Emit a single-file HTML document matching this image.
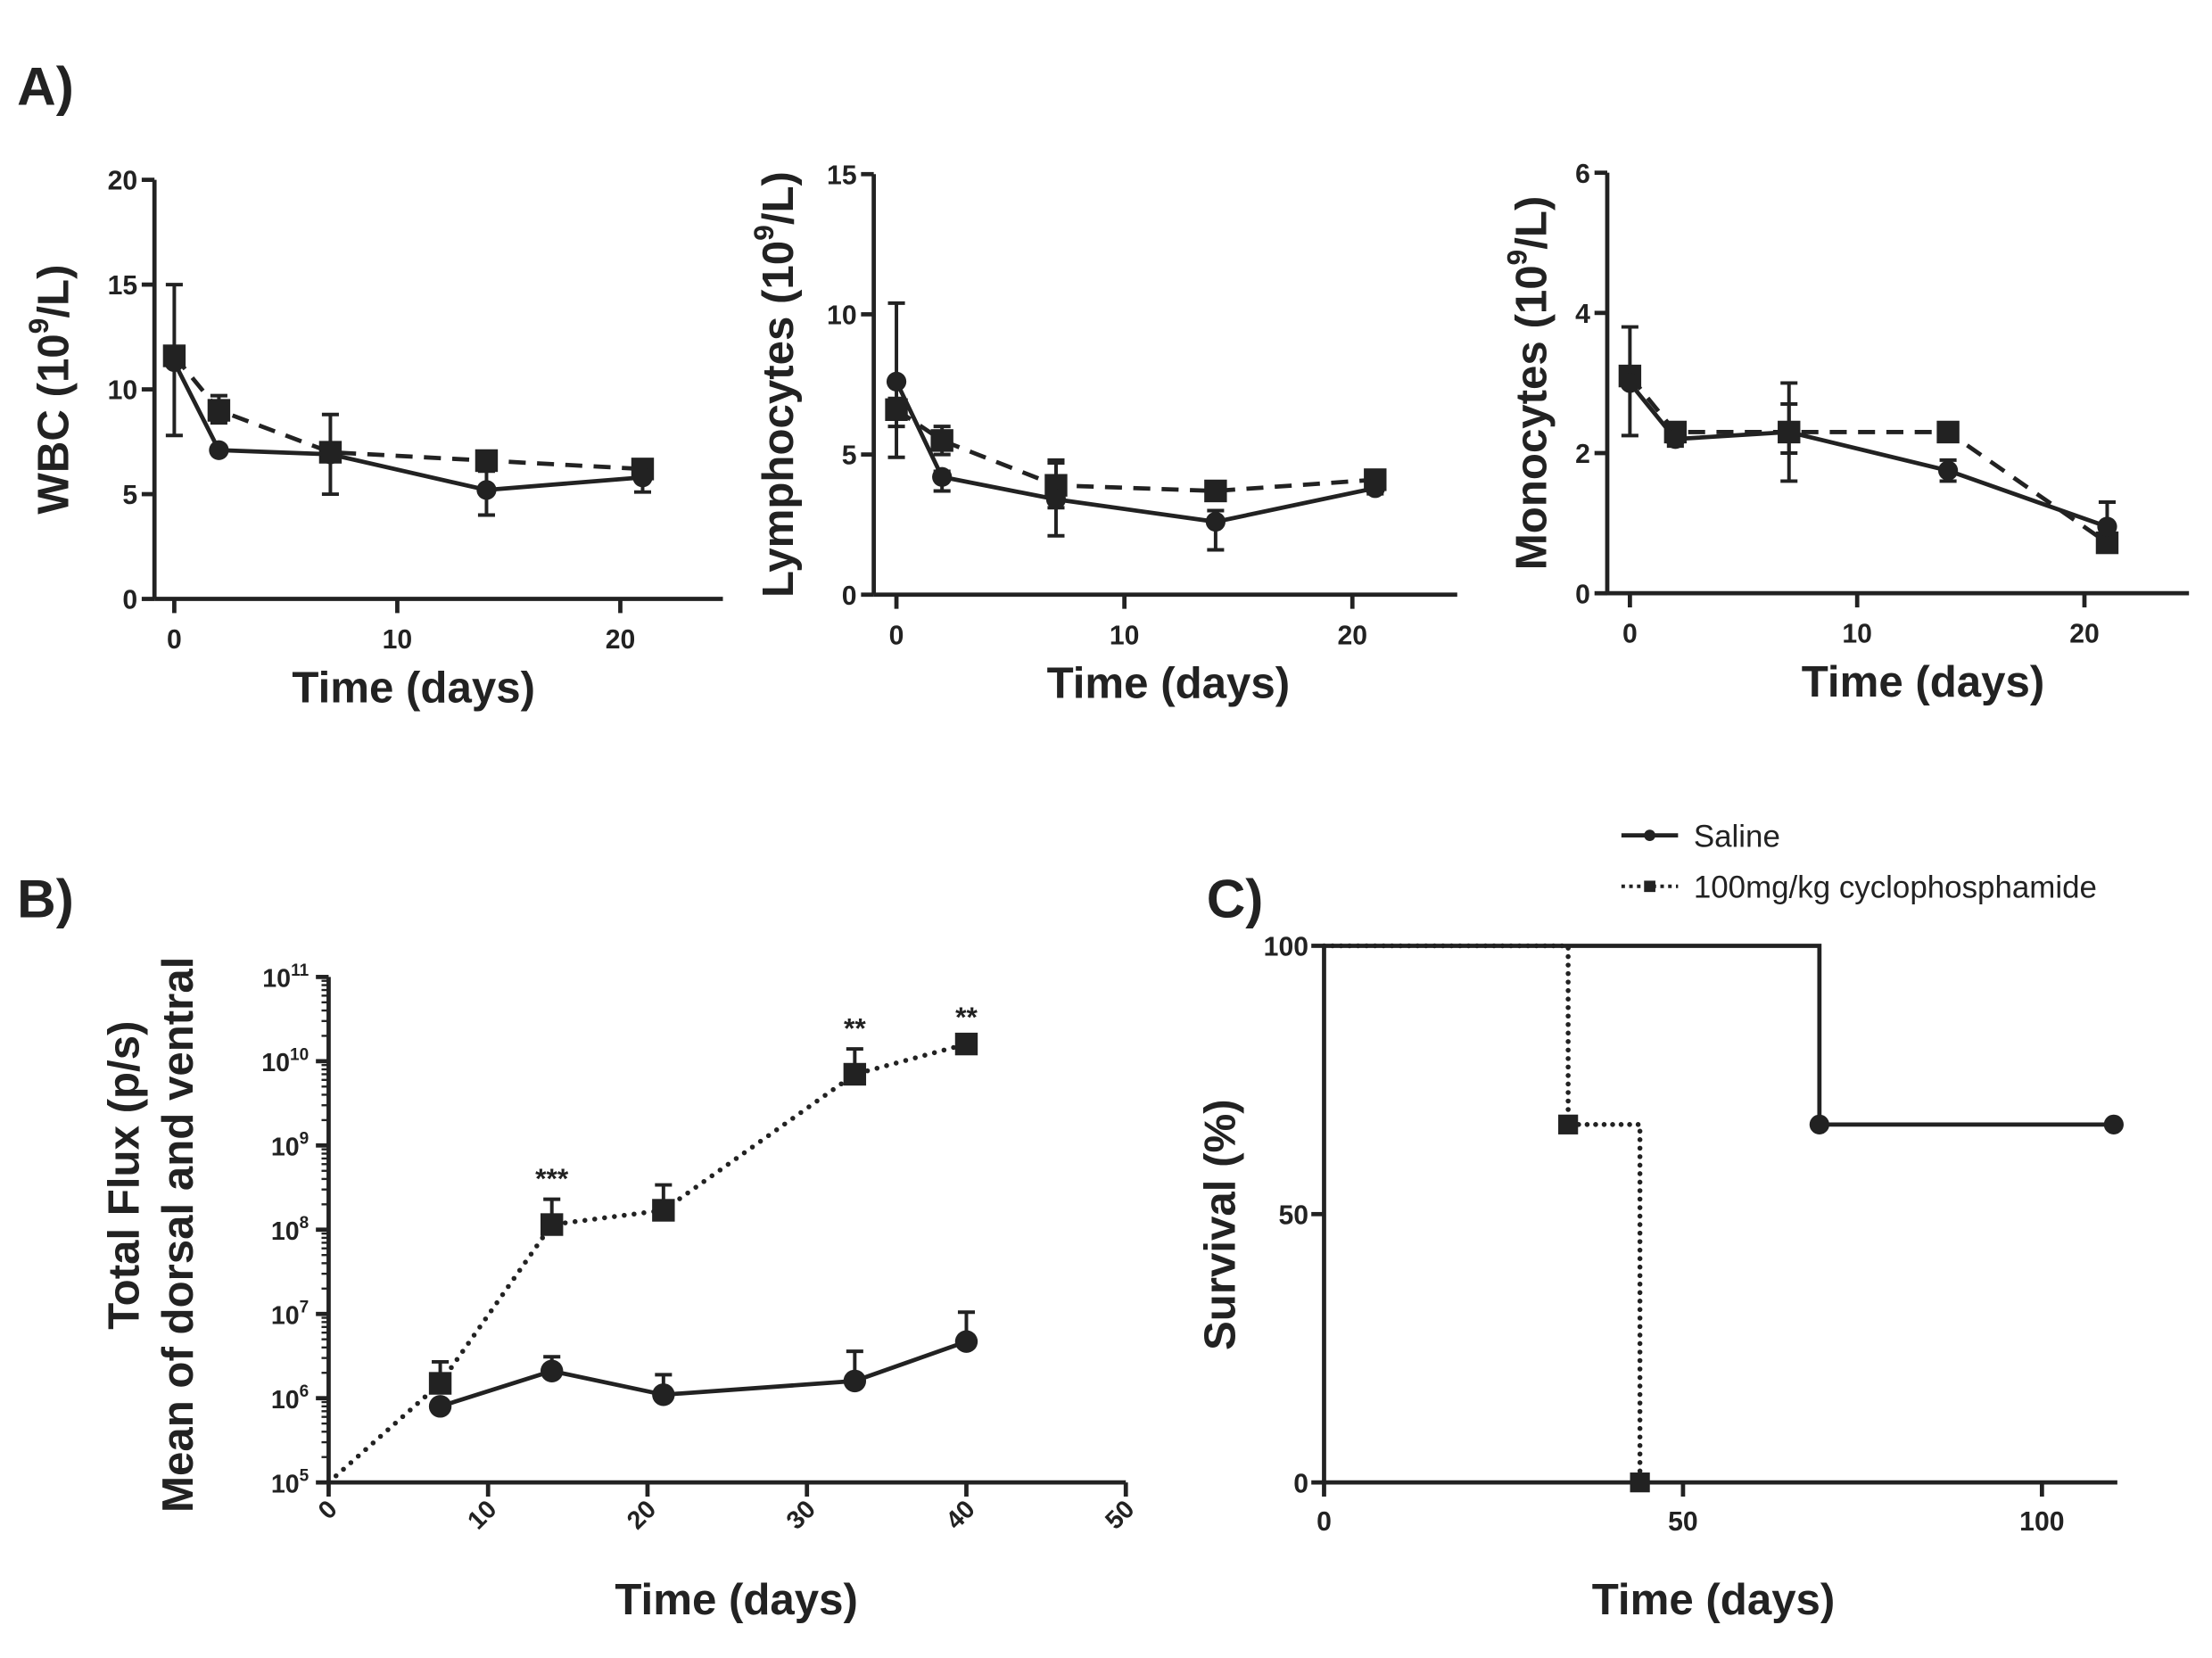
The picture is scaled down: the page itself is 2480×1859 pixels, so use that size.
<!DOCTYPE html>
<html><head><meta charset="utf-8">
<style>
html,body{margin:0;padding:0;background:#fff;}
svg{display:block;}
text{font-family:"Liberation Sans",Arial,sans-serif;font-weight:bold;fill:#222;}
</style></head>
<body>
<svg id="fig" width="2480" height="1859" viewBox="0 0 1562 1171" xmlns="http://www.w3.org/2000/svg">
<text x="12" y="74" font-size="38">A)</text>
<text x="12" y="648" font-size="38">B)</text>
<text x="852" y="648" font-size="38">C)</text>
<g id="legend">
  <g>
    <line x1="1145" y1="590" x2="1185" y2="590" stroke="#222" stroke-width="3"/>
    <circle cx="1165" cy="590" r="4" fill="#222"/>
    <text x="1196" y="598" font-size="22" style="font-weight:normal">Saline</text>
  </g>
  <g>
    <line x1="1145" y1="626" x2="1185" y2="626" stroke="#222" stroke-width="2.5" stroke-dasharray="2.5 3"/>
    <rect x="1161" y="622" width="8" height="8" fill="#222"/>
    <text x="1196" y="634" font-size="22" style="font-weight:normal">100mg/kg cyclophosphamide</text>
  </g>
</g>
</svg>
<script>
const NS='http://www.w3.org/2000/svg';
const svg=document.getElementById('fig');
// ---- data ----
const daysA=[0,2,7,14,21];
const wbcSaline=[11.3,7.1,6.9,5.2,5.8];
const wbcSalineLo=[7.8,7.0,5.0,4.0,5.1];
const wbcSalineHi=[15.0,7.2,8.8,6.1,6.2];
const wbcCyclo=[11.6,9.0,7.0,6.6,6.2];
const wbcCycloLo=[11.2,8.4,6.9,6.3,5.9];
const wbcCycloHi=[11.9,9.7,7.1,6.9,6.5];
const lymSaline=[7.6,4.2,3.4,2.6,3.8];
const lymSalineLo=[4.9,3.7,2.1,1.6,3.6];
const lymSalineHi=[10.4,4.4,4.7,3.0,4.0];
const lymCyclo=[6.6,5.5,3.9,3.7,4.1];
const lymCycloLo=[6.0,5.0,3.1,3.5,3.9];
const lymCycloHi=[7.0,6.0,4.8,3.9,4.3];
const monSaline=[3.0,2.2,2.3,1.75,0.95];
const monSalineLo=[2.25,2.1,1.6,1.6,0.6];
const monSalineHi=[3.8,2.3,3.0,1.9,1.3];
const monCyclo=[3.1,2.3,2.3,2.3,0.72];
const monCycloLo=[3.0,2.2,2.0,2.2,0.65];
const monCycloHi=[3.2,2.4,2.7,2.4,0.8];
const daysB=[7,14,21,33,40];
const fluxSaline=[8e5,2.1e6,1.1e6,1.6e6,4.7e6];
const fluxSalineHi=[8e5,3.1e6,1.9e6,3.6e6,1.05e7];
const fluxCyclo=[1.5e6,1.15e8,1.7e8,7e9,1.6e10];
const fluxCycloHi=[2.7e6,2.3e8,3.4e8,1.4e10,1.9e10];
const fluxStars=['','***','','**','**'];
const survSalineT=[0,69,69,110];
const survSalineV=[100,100,66.7,66.7];
const survCycloT=[0,34,34,44,44];
const survCycloV=[100,100,66.7,66.7,0];
const survSalineMarkT=[69,110];const survSalineMarkV=[66.7,66.7];
const survCycloMarkT=[34,44];const survCycloMarkV=[66.7,0];
const ticksA1=[0,5,10,15,20],ticksA2=[0,5,10,15],ticksA3=[0,2,4,6],ticksAx=[0,10,20];
const ticksBx=[0,10,20,30,40,50],ticksBy=[5,6,7,8,9,10,11];
const ticksCx=[0,50,100],ticksCy=[0,50,100];

function mk(tag,attrs,parent){const e=document.createElementNS(NS,tag);for(const k in attrs)e.setAttribute(k,attrs[k]);(parent||svg).appendChild(e);return e;}
function txt(parent,x,y,s,size,anchor,extra){const t=mk('text',Object.assign({x:x,y:y,'font-size':size,'text-anchor':anchor||'middle'},extra||{}),parent);t.textContent=s;return t;}

function marker(g,type,x,y,size){
  if(type==='c'){const c=mk('circle',{cx:x,cy:y,r:size,fill:'#222'},g);
    
    }
  else{const r=mk('rect',{x:x-size,y:y-size,width:2*size,height:2*size,fill:'#222'},g);
    
    }
}
function series(g,xs,ys,X,Y,dash,type,size,lo,hi,name){
  const s=mk('g',{},g);
  
  
  const pts=xs.map((v,i)=>X(v)+','+Y(ys[i])).join(' ');
  mk('polyline',{points:pts,fill:'none',stroke:'#222','stroke-width':3,'stroke-dasharray':dash||'none'},s);
  for(let i=0;i<xs.length;i++){
    const x=X(xs[i]);
    if(hi){const e=mk('g',{},s);
      
      
      const y1=lo?Y(lo[i]):Y(ys[i]),y2=Y(hi[i]);
      mk('line',{x1:x,y1:y1,x2:x,y2:y2,stroke:'#222','stroke-width':2.5},e);
      mk('line',{x1:x-6,y1:y2,x2:x+6,y2:y2,stroke:'#222','stroke-width':2.5},e);
      if(lo)mk('line',{x1:x-6,y1:y1,x2:x+6,y2:y1,stroke:'#222','stroke-width':2.5},e);}
    marker(s,type,x,Y(ys[i]),size);
  }
}
function panelA(xoff,x20,ax,y0,ytop,ymax,yt,xs,data,ylabel){
  const g=mk('g',{});
  
  
  const x0=xoff;
  const X=v=>x0+(x20-x0)*v/20, Y=v=>y0-(y0-ytop)*v/ymax;
  const end=X(24.6);
  mk('line',{x1:ax,y1:y0,x2:ax,y2:ytop,stroke:'#222','stroke-width':3},g);
  mk('line',{x1:ax,y1:y0,x2:end,y2:y0,stroke:'#222','stroke-width':3},g);
  yt.forEach(v=>{mk('line',{x1:ax-9,y1:Y(v),x2:ax,y2:Y(v),stroke:'#222','stroke-width':3},g);
    const t=txt(g,ax-12,Y(v)+7,String(v),19,'end');
    
    });
  ticksAx.forEach(v=>{mk('line',{x1:X(v),y1:y0,x2:X(v),y2:y0+10,stroke:'#222','stroke-width':3},g);
    const t=txt(g,X(v),y0+35,String(v),19);
    
    });
  const xt=txt(g,ylabel.xc,y0+73,'Time (days)',31);
  
  
  const yl=mk('text',{x:0,y:0,'font-size':31,'text-anchor':'middle',transform:`translate(${ylabel.yx},${(y0+ytop)/2}) rotate(-90)`},g);
  
  
  yl.appendChild(document.createTextNode(ylabel.txt+' (10'));
  const sup=mk('tspan',{dy:-14,'font-size':20},yl);sup.textContent='9';
  const rest=mk('tspan',{dy:14},yl);rest.textContent='/L)';
  series(g,xs,data[3],X,Y,'12 8','s',8,data[4],data[5],'series-cyclophosphamide');
  series(g,xs,data[0],X,Y,null,'c',7,data[1],data[2],'series-saline');
}
panelA(123,438,109,423,127,20,ticksA1,daysA,[wbcSaline,wbcSalineLo,wbcSalineHi,wbcCyclo,wbcCycloLo,wbcCycloHi],{txt:'WBC',name:'wbc-chart',xc:292,yx:48});
panelA(633,955,617,420,123,15,ticksA2,daysA,[lymSaline,lymSalineLo,lymSalineHi,lymCyclo,lymCycloLo,lymCycloHi],{txt:'Lymphocytes',name:'lymphocytes-chart',xc:825,yx:560});
panelA(1151,1472,1135,419,122,6,ticksA3,daysA,[monSaline,monSalineLo,monSalineHi,monCyclo,monCycloLo,monCycloHi],{txt:'Monocytes',name:'monocytes-chart',xc:1358,yx:1092});

// ---- panel B ----
(function(){
  const g=mk('g',{});
  
  
  const ax=232,y5=1047,y11=690;
  const X=v=>ax+(795-ax)*v/50, Y=v=>y5-(y5-y11)*(Math.log10(v)-5)/6;
  mk('line',{x1:ax,y1:y5,x2:ax,y2:y11,stroke:'#222','stroke-width':3},g);
  mk('line',{x1:ax,y1:y5,x2:X(50),y2:y5,stroke:'#222','stroke-width':3},g);
  ticksBy.forEach(p=>{const y=Y(Math.pow(10,p));
    mk('line',{x1:ax-9,y1:y,x2:ax,y2:y,stroke:'#222','stroke-width':3},g);
    if(p<11)for(let m=2;m<10;m++){const ym=Y(m*Math.pow(10,p));mk('line',{x1:ax-5,y1:ym,x2:ax,y2:ym,stroke:'#222','stroke-width':1.5},g);}
    const t=mk('text',{x:ax-14,y:y+7,'font-size':18,'text-anchor':'end'},g);
    
    
    t.appendChild(document.createTextNode('10'));
    const s=mk('tspan',{dy:-8,'font-size':12},t);s.textContent=String(p);});
  ticksBx.forEach(v=>{mk('line',{x1:X(v),y1:y5,x2:X(v),y2:y5+10,stroke:'#222','stroke-width':3},g);
    const t=txt(g,0,0,String(v),18,'end',{transform:`translate(${X(v)+7},${y5+20}) rotate(-45)`});
    
    });
  const xt=txt(g,520,1140,'Time (days)',31);
  
  
  const y1=txt(g,0,0,'Total Flux (p/s)',31,'middle',{transform:'translate(98,830) rotate(-90)'});
  
  
  const y2=txt(g,0,0,'Mean of dorsal and ventral',31,'middle',{transform:'translate(136,872) rotate(-90)'});
  
  
  const cs=mk('g',{},g);
  
  
  const pts=[[0,1e5]].concat(daysB.map((d,i)=>[d,fluxCyclo[i]])).map(p=>X(p[0])+','+Y(p[1])).join(' ');
  mk('polyline',{points:pts,fill:'none',stroke:'#222','stroke-width':3.5,'stroke-dasharray':'0 7','stroke-linecap':'round'},cs);
  daysB.forEach((d,i)=>{const x=X(d),yh=Y(fluxCycloHi[i]);
    mk('line',{x1:x,y1:Y(fluxCyclo[i]),x2:x,y2:yh,stroke:'#222','stroke-width':2.5},cs);
    mk('line',{x1:x-6,y1:yh,x2:x+6,y2:yh,stroke:'#222','stroke-width':2.5},cs);
    marker(cs,'s',x,Y(fluxCyclo[i]),8);
    if(fluxStars[i]){const t=txt(cs,x,yh-8,fluxStars[i],20);
      
      }});
  series(g,daysB,fluxSaline,X,Y,null,'c',8,null,fluxSalineHi,'series-saline');
})();

// ---- panel C ----
(function(){
  const g=mk('g',{});
  
  
  const ax=935,y0=1047,y100=668;
  const X=v=>ax+(1442-ax)*v/100, Y=v=>y0-(y0-y100)*v/100;
  mk('line',{x1:ax,y1:y0,x2:ax,y2:y100,stroke:'#222','stroke-width':3},g);
  mk('line',{x1:ax,y1:y0,x2:X(110.5),y2:y0,stroke:'#222','stroke-width':3},g);
  ticksCy.forEach(v=>{mk('line',{x1:ax-9,y1:Y(v),x2:ax,y2:Y(v),stroke:'#222','stroke-width':3},g);
    const t=txt(g,ax-11,Y(v)+7,String(v),19,'end');
    
    });
  ticksCx.forEach(v=>{mk('line',{x1:X(v),y1:y0,x2:X(v),y2:y0+10,stroke:'#222','stroke-width':3},g);
    const t=txt(g,X(v),y0+34,String(v),19);
    
    });
  const xt=txt(g,1210,1140,'Time (days)',31);
  
  
  const yt=txt(g,0,0,'Survival (%)',31,'middle',{transform:'translate(872,865) rotate(-90)'});
  
  
  const cs=mk('g',{},g);
  
  
  mk('polyline',{points:survCycloT.map((t,i)=>X(t)+','+Y(survCycloV[i])).join(' '),fill:'none',stroke:'#222','stroke-width':3.5,'stroke-dasharray':'0 6','stroke-linecap':'round'},cs);
  survCycloMarkT.forEach((t,i)=>marker(cs,'s',X(t),Y(survCycloMarkV[i]),7));
  const ss=mk('g',{},g);
  
  
  mk('polyline',{points:survSalineT.map((t,i)=>X(t)+','+Y(survSalineV[i])).join(' '),fill:'none',stroke:'#222','stroke-width':3},ss);
  survSalineMarkT.forEach((t,i)=>marker(ss,'c',X(t),Y(survSalineMarkV[i]),7));
})();
</script>
</body></html>
